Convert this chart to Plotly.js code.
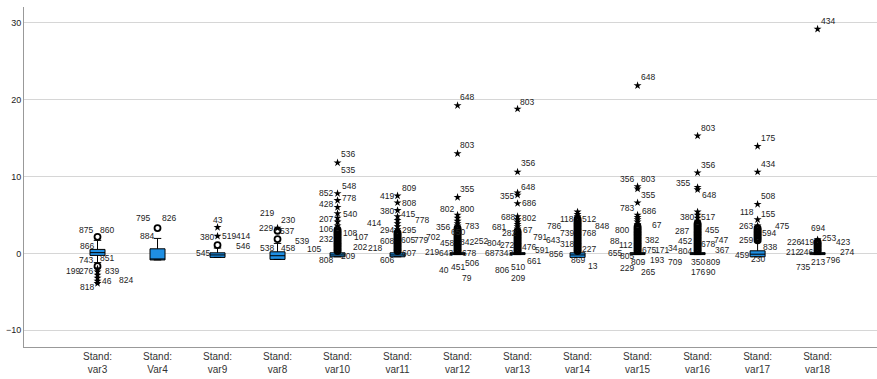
<!DOCTYPE html>
<html><head><meta charset="utf-8">
<script src="https://cdn.plot.ly/plotly-3.0.1.min.js"></script>
<style>html,body{margin:0;padding:0;background:#fff}#chart{width:877px;height:379px}</style>
</head><body><div id="chart"></div>
<script>
// ---- data ----
const categories = ['Stand:<br>var3','Stand:<br>Var4','Stand:<br>var9','Stand:<br>var8','Stand:<br>var10','Stand:<br>var11','Stand:<br>var12','Stand:<br>var13','Stand:<br>var14','Stand:<br>var15','Stand:<br>var16','Stand:<br>var17','Stand:<br>var18'];
const q1         = [-0.26,-0.85,-0.52,-0.78,-0.44,-0.44,-0.15,-0.15,-0.52,-0.15,-0.15,-0.44,-0.15];
const median     = [ 0.10,-0.85,-0.20,-0.30,-0.20,-0.20, 0.00, 0.00,-0.20, 0.00, 0.00,-0.10, 0.00];
const q3         = [ 0.52, 0.60, 0.08, 0.21, 0.08, 0.08, 0.10, 0.10, 0.08, 0.10, 0.10, 0.34, 0.10];
const lowerFence = [-1.20,-0.85,-0.52,-0.78,-0.44,-0.44,-0.15,-0.15,-0.52,-0.15,-0.15,-0.44,-0.15];
const upperFence = [ 1.70, 1.95, 0.70, 1.30, 0.30, 0.30, 0.30, 0.30, 0.30, 0.30, 0.30, 1.50, 0.30];

// mild outliers (circles) per category
const circleOutliers = [
  [2.16,-1.66],
  [3.3],
  [1.08],
  [1.86,2.95],
  [0.3,0.5,0.7,0.9,1.1,1.3,1.5,1.7,1.9,2.1,2.3,2.5,2.7,2.9,3.1],
  [0.3,0.5,0.7,0.9,1.1,1.3,1.5,1.7,1.9,2.1,2.3,2.5,2.7],
  [0.3,0.5,0.7,0.9,1.1,1.3,1.5,1.7,1.9,2.1,2.3,2.5,2.7,2.9,3.1,3.3],
  [0.3,0.5,0.7,0.9,1.1,1.3,1.5,1.7,1.9,2.1,2.3,2.5,2.7,2.9],
  [0.3,0.5,0.7,0.9,1.1,1.3,1.5,1.7,1.9,2.1,2.3,2.5,2.7,2.9,3.1,3.3,3.5,3.7,3.9,4.1,4.3,4.5],
  [0.3,0.5,0.7,0.9,1.1,1.3,1.5,1.7,1.9,2.1,2.3,2.5,2.7,2.9,3.1,3.3,3.5],
  [0.3,0.5,0.7,0.9,1.1,1.3,1.5,1.7,1.9,2.1,2.3,2.5,2.7,2.9,3.1,3.3,3.5,3.7,3.9],
  [1.7,1.9,2.1,2.3,2.5,2.7,2.9,3.1,3.3],
  [0.3,0.5,0.7,0.9,1.1,1.3,1.5]
];
// extreme outliers (stars) per category
const starOutliers = [
  [-2.0,-2.4,-2.8,-3.2,-3.6,-3.9],
  [],
  [2.25,3.4],
  [3.3],
  [3.6,4.1,4.6,5.2,6.0,6.9,7.8,11.8],
  [3.1,3.5,3.9,4.3,4.8,5.6,6.6,7.5],
  [3.6,3.9,4.2,4.6,5.0,7.3,13.0,19.25],
  [3.2,3.5,3.8,4.1,4.4,4.8,6.5,7.6,7.9,10.6,18.8],
  [4.8,5.1,5.4],
  [3.8,4.1,4.4,4.7,5.0,6.6,8.4,8.7,21.85],
  [4.2,4.6,5.0,5.4,8.3,8.6,10.5,15.3],
  [3.6,4.4,6.4,10.6,13.95],
  [1.8,29.2]
];
// case-number labels per category and the value level they sit at
const caseLabels = [
  ['875','860','866','743','851','199','276','839','46','824','818'],
  ['795','826','884'],
  ['43','380','519','414','546','545'],
  ['219','230','229','537','539','538','458'],
  ['536','535','548','852','778','428','540','207','106','108','107','232','202','105','808','209'],
  ['809','419','808','380','415','778','414','294','295','608','605','779','218','606','607'],
  ['648','803','355','802','800','356','783','650','458','842','252','702','219','643','678','506','40','451','79'],
  ['803','356','648','355','686','688','802','681','67','282','791','804','272','476','591','687','343','661','806','510','209'],
  ['118','512','848','786','739','768','643','318','227','856','869','13'],
  ['648','356','803','355','783','686','67','800','88','112','382','655','805','675','171','809','193','229','265'],
  ['803','356','355','648','380','517','287','455','452','747','678','34','804','367','709','350','809','176','90'],
  ['175','434','508','118','155','263','475','594','259','838','459','230'],
  ['434','694','253','419','226','423','212','246','274','796','213','735']
];
const caseLabelValues = [
  [3.04,3.04,1.0,-0.87,-0.65,-2.3,-2.3,-2.25,-3.57,-3.4,-4.43],
  [4.6,4.6,2.25],
  [4.3,2.1,2.25,2.3,0.95,0.0],
  [5.3,4.34,3.34,2.95,1.64,0.73,0.73],
  [12.9,10.8,8.77,7.9,7.17,6.43,5.08,4.47,3.17,2.6,2.17,1.83,0.78,0.52,-0.87,-0.3],
  [8.55,7.47,6.6,5.55,5.08,4.34,4.0,3.04,3.1,1.64,1.73,1.73,0.73,-0.87,0.08],
  [20.4,14.1,8.35,5.73,5.75,3.47,3.6,2.82,1.38,1.45,1.6,2.17,0.17,0.08,0.1,-1.22,-2.18,-1.83,-3.26],
  [19.77,11.73,8.68,7.47,6.52,4.77,4.56,3.47,3.04,2.6,2.17,1.3,1.15,0.86,0.43,0.08,0.0,-0.96,-2.18,-1.83,-3.26],
  [4.47,4.5,3.56,3.6,2.69,2.69,1.73,1.17,0.52,-0.13,-0.87,-1.6],
  [23.0,9.65,9.65,7.65,5.86,5.56,3.69,3.04,1.64,1.08,1.73,0.08,-0.35,0.43,0.43,-1.09,-0.87,-1.96,-2.48],
  [16.38,11.5,9.2,7.6,4.77,4.77,2.9,3.04,1.6,1.73,1.17,0.65,0.3,0.43,-1.09,-1.09,-1.09,-2.4,-2.4],
  [15.07,11.64,7.47,5.34,5.08,3.6,3.6,2.6,1.73,0.86,-0.22,-0.78],
  [30.3,3.26,2.04,1.52,1.52,1.52,0.13,0.13,0.13,-0.87,-1.09,-1.74]
];
// horizontal label placement in px (negative: label ends left of the box centre, positive: starts right of it, 0: centred)
const labelOffsets = [
  [-4,1,-3,-4,1,-17,-4,6,3,20,-3],
  [-7,3,-3],
  [0,-3,3,17,17,-7],
  [-3,2,-4,1,16,-3,2],
  [2,2,3,-4,3,-4,4,-4,-4,4,15,-4,14,-16,-4,2],
  [3,-3,3,-3,2,16,-16,-3,3,-3,2,15,-15,-3,3],
  [1,1,1,-3,1,-7,6,0,-3,1,15,-17,-18,-4,3,6,-8,0,3],
  [1,2,2,-3,3,-2,3,-11,4,-1,14,-16,-3,3,16,-18,-4,8,-8,0,0],
  [-3,3,16,-16,-3,3,-17,-3,3,-14,0,9],
  [2,-3,2,2,-3,3,13,-8,-17,-4,6,-15,-3,3,16,0,11,-3,2],
  [2,2,-7,3,-3,2,-8,6,-5,15,2,-19,-5,16,-15,0,7,0,7],
  [2,2,2,-3,2,-4,16,3,-4,4,-8,0],
  [2,0,3,-3,-16,17,-17,-4,21,7,0,-7]
];

// ---- drawing ----
const idx = categories.map((_, i) => i);
const boxTrace = {
  type: 'box', x: idx, q1: q1, median: median, q3: q3,
  lowerfence: lowerFence, upperfence: upperFence,
  width: 0.25, whiskerwidth: 0.5, boxpoints: false,
  fillcolor: '#1f8fe3', line: {color: '#000', width: 1},
  hoverinfo: 'skip', showlegend: false
};
const cx = [], cy = [], sx = [], sy = [];
circleOutliers.forEach((arr, i) => arr.forEach(v => { cx.push(i); cy.push(v); }));
starOutliers.forEach((arr, i) => arr.forEach(v => { sx.push(i); sy.push(v); }));
const circTrace = {type:'scatter', mode:'markers', x:cx, y:cy, hoverinfo:'skip', showlegend:false,
  marker:{symbol:'circle-open', size:6, line:{width:1.8, color:'#000'}, color:'#000'}};
const starTrace = {type:'scatter', mode:'markers', x:sx, y:sy, hoverinfo:'skip', showlegend:false,
  marker:{symbol:'star', size:6, color:'#000', line:{width:0}}};

const annotations = [];
caseLabels.forEach((labs, i) => labs.forEach((t, k) => {
  const dx = labelOffsets[i][k];
  annotations.push({x: i, y: caseLabelValues[i][k], xref:'x', yref:'y', text: t, showarrow:false,
    xanchor: dx < 0 ? 'right' : (dx > 0 ? 'left' : 'center'), yanchor:'middle', xshift: dx,
    font:{family:'Liberation Sans, Arial, sans-serif', size:8.5, color:'#222'}, borderpad:0});
}));

const layout = {
  width: 877, height: 379,
  margin: {l:24, r:0, t:7, b:32, pad:0},
  paper_bgcolor:'#fff', plot_bgcolor:'#fff',
  showlegend:false,
  font:{family:'Liberation Sans, Arial, sans-serif', color:'#222'},
  xaxis: {range:[-1.225, 12.99], tickvals: idx, ticktext: categories, showgrid:false, zeroline:false,
    showline:true, linecolor:'#999', linewidth:1, ticks:'', tickfont:{size:10, color:'#333'}},
  yaxis: {range:[-12.18, 32.07], tickvals:[-10,0,10,20,30], showgrid:true, gridcolor:'#d6d6d6', gridwidth:1,
    zeroline:false, showline:true, linecolor:'#999', linewidth:1, ticks:'', tickfont:{size:9, color:'#222'}},
  annotations: annotations
};
Plotly.newPlot('chart', [boxTrace, circTrace, starTrace], layout, {staticPlot:true, displayModeBar:false});
</script></body></html>
